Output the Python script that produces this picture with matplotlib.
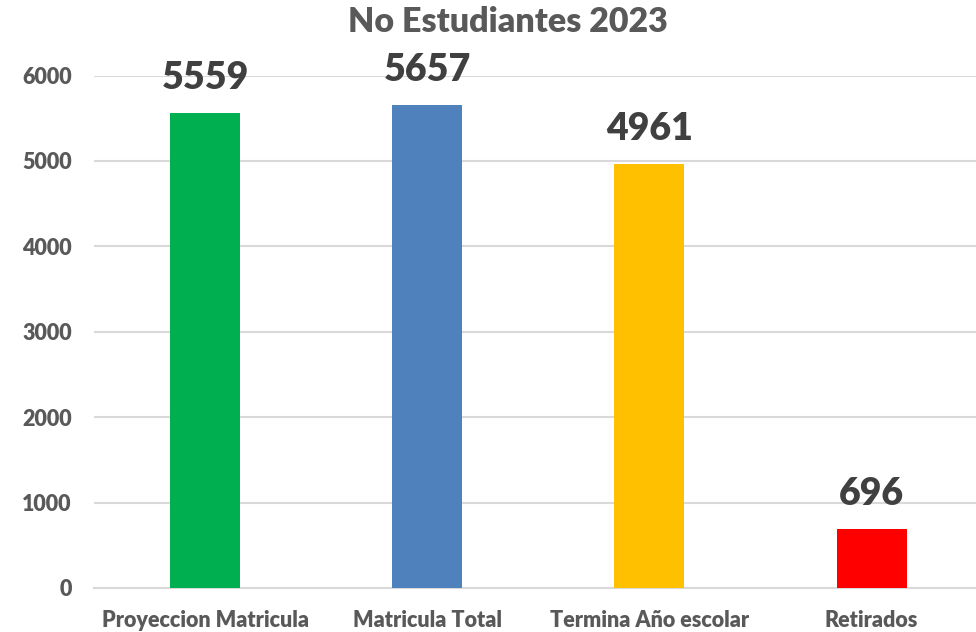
import matplotlib
matplotlib.use('Agg')
from matplotlib import pyplot as plt

# Data
categories = ['Proyeccion Matricula', 'Matricula Total', 'Termina Año escolar', 'Retirados']
values = [5559, 5657, 4961, 696]
colors = ['#00B050', '#4F81BD', '#FFC000', '#FF0000']
yticks = [0, 1000, 2000, 3000, 4000, 5000, 6000]

plt.rcParams['font.family'] = ['Lato', 'DejaVu Sans']

fig = plt.figure(figsize=(9.76, 6.32), dpi=100)
ax = fig.add_axes([94 / 976, 44 / 632, 1 - 94 / 976, (588 - 75.5) / 632])

x = range(len(categories))
bars = ax.bar(x, values, width=0.315, color=colors, zorder=3)

for xi, v in zip(x, values):
    ax.text(xi, v + 210, str(v), ha='center', va='bottom', fontsize=27,
            fontweight='heavy', color='#404040', clip_on=False)

ax.set_xlim(-0.5, 3.47)
ax.set_ylim(0, 6000)
ax.set_yticks(yticks)
ax.set_xticks(list(x))
ax.set_xticklabels(categories)
ax.grid(axis='y', color='#D9D9D9', linewidth=1.5, zorder=0)
for side in ['top', 'right', 'left']:
    ax.spines[side].set_visible(False)
ax.spines['bottom'].set_color('#D9D9D9')
ax.spines['bottom'].set_linewidth(1.5)
ax.tick_params(axis='both', length=0, labelsize=15.5, labelcolor='#595959')
ax.tick_params(axis='y', pad=16)
ax.tick_params(axis='x', pad=16)
for lbl in ax.get_xticklabels() + ax.get_yticklabels():
    lbl.set_fontweight('heavy')

fig.text(0.52, 0.965, 'No Estudiantes 2023', ha='center', va='center',
         fontsize=24.5, fontweight='heavy', color='#595959')

fig.savefig('out.png', dpi=100)
